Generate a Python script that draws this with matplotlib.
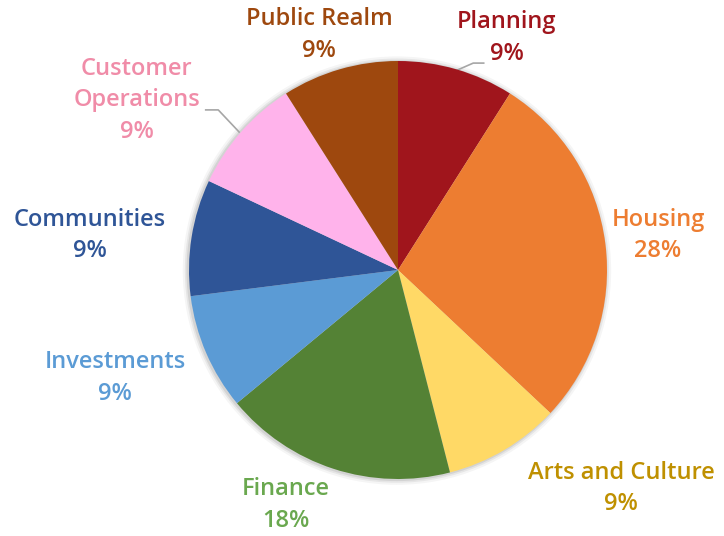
import numpy as np
import matplotlib.pyplot as plt
from matplotlib.patches import Circle

# Data
categories = ['Planning', 'Housing', 'Arts and Culture', 'Finance', 'Investments',
              'Communities', 'Customer\nOperations', 'Public Realm']
shares = [9, 28, 9, 18, 9, 9, 9, 9]

slice_colors = ['#A0151C', '#ED7D31', '#FFD966', '#548235', '#5B9BD5',
                '#2F5597', '#FFB3EB', '#9E480E']
label_colors = ['#A0151C', '#ED7D31', '#BF9000', '#6AA84F', '#5B9BD5',
                '#2F5597', '#F08CA8', '#9E480E']

# label centres, in units of the pie radius
label_pos = [(0.52, 1.11), (1.244, 0.165), (1.067, -1.045), (-0.536, -1.124),
             (-1.354, -0.517), (-1.474, 0.165), (-1.25, 0.812), (-0.378, 1.124)]

fig = plt.figure(figsize=(7.24, 5.36), dpi=100)
ax = fig.add_axes([0, 0, 1, 1])

# faint shadow behind the pie
for k, a in [(1.025, 0.04), (1.015, 0.06), (1.007, 0.08)]:
    ax.add_patch(Circle((-0.005, -0.003), k, color='black', alpha=a, lw=0, zorder=0))

wedges, _ = ax.pie(shares, colors=slice_colors, startangle=90, counterclock=False,
                   radius=1.0, wedgeprops=dict(linewidth=0))
for w in wedges:
    w.set_zorder(2)

r_px = 209
cx, cy = 398, 536 - 270
ax.set_xlim(-cx / r_px, (724 - cx) / r_px)
ax.set_ylim(-cy / r_px, (536 - cy) / r_px)
ax.set_aspect('equal')
ax.axis('off')

for name, val, col, (lx, ly) in zip(categories, shares, label_colors, label_pos):
    ax.text(lx, ly, f'{name}\n{val}%', ha='center', va='center', color=col,
            fontsize=17, fontweight='semibold', family='Open Sans',
            linespacing=1.42)

# leader lines (Planning, Customer Operations)
ax.plot([0.28, 0.36, 0.41], [0.955, 0.99, 0.99], color='#A6A6A6', lw=1.2, zorder=1)
ax.plot([-0.92, -0.86, -0.76], [0.766, 0.766, 0.66], color='#A6A6A6', lw=1.2, zorder=1)

fig.savefig('out.png', dpi=100)
